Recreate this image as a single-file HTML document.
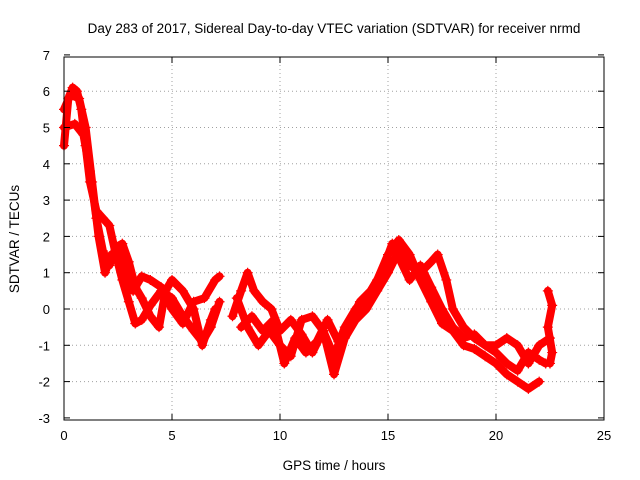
<!DOCTYPE html>
<html><head><meta charset="utf-8"><style>
body{margin:0;background:#fff}
svg{display:block;font-family:"Liberation Sans",sans-serif}
</style></head><body>
<svg width="640" height="480">
<rect width="640" height="480" fill="#fff"/>
<text x="334" y="33" text-anchor="middle" font-size="13.5">Day 283 of 2017, Sidereal Day-to-day VTEC variation (SDTVAR) for receiver nrmd</text>
<g id="grid"></g><g id="series"></g>
<rect x="64" y="57" width="540" height="363" fill="none" stroke="#000"/>
<g id="axes"></g>
<text x="334" y="470" text-anchor="middle" font-size="13.5">GPS time / hours</text>
<text transform="translate(19,239) rotate(-90)" text-anchor="middle" font-size="13.5">SDTVAR / TECUs</text>
</svg>
<script>
const xTicks=[0,5,10,15,20,25];
const yTicks=[-3,-2,-1,0,1,2,3,4,5,6,7];
const trackAx=[0,0.2,0.4,0.6,0.8,1.0,1.2,1.5,1.8,2.1,2.4,2.7,3.0,3.3,3.6,4.0,4.5,5.0,5.5,6.0,6.4,6.8,7.2];
const trackAy=[4.5,5.8,6.1,6.0,5.5,4.5,3.5,2.7,2.5,2.3,1.5,0.8,0.2,-0.4,-0.3,0.1,0.5,0.3,-0.2,-0.6,-0.9,-0.5,0.2];
const trackBx=[0,0.3,0.7,1.0,1.3,1.6,1.9,2.2,2.5,2.8,3.2,3.6,4.0,4.5,5.0,5.5,6.0,6.5,7.0,7.2];
const trackBy=[5.5,5.9,5.8,5.0,3.5,2.0,1.0,1.5,1.6,1.0,0.5,0.9,0.8,0.6,0.0,-0.4,0.2,0.3,0.8,0.9];
const trackCx=[0,0.5,0.9,1.2,1.5,1.8,2.1,2.4,2.7,3.0,3.3,3.6,4.0,4.4,4.7,5.0,5.5,6.0,6.4,6.8,7.0];
const trackCy=[5.0,5.1,4.8,3.8,2.5,1.6,1.2,1.7,1.8,1.3,0.6,0.3,-0.2,-0.5,0.5,0.8,0.5,0.0,-1.0,-0.3,0.0];
const trackEx=[7.8,8.2,8.5,8.8,9.2,9.6,10.0,10.5,11.0,11.5,12.0,12.5,13.0,13.5,14.0,14.5,15.0,15.5,16.0,16.5,17.0,17.5,18.0,18.5,19.0,19.5,20.0,20.5,21.0,21.5,22.0];
const trackEy=[-0.2,0.5,1.0,0.5,0.2,0.0,-0.6,-0.3,-0.7,-1.2,-0.6,-1.3,-0.5,0.0,0.3,0.8,1.5,1.9,1.5,0.8,0.2,-0.4,-0.6,-1.0,-1.1,-1.3,-1.5,-1.8,-2.0,-2.2,-2.0];
const trackFx=[8.0,8.5,9.0,9.5,10.0,10.5,11.0,11.5,12.0,12.5,13.0,13.5,14.0,14.5,15.0,15.5,16.0,16.5,17.0,17.3,17.7,18.0,18.5,19.0,19.5,20.0,20.5,21.0,21.5,22.0,22.3];
const trackFy=[0.3,-0.5,-1.0,-0.6,-1.0,-1.3,-0.3,-0.2,-0.6,-1.8,-0.8,-0.3,0.0,0.5,1.0,1.6,1.2,1.0,1.3,1.5,0.8,0.0,-0.5,-0.8,-1.0,-1.2,-1.5,-1.7,-1.2,-1.4,-1.5];
const trackGx=[8.2,8.7,9.2,9.7,10.2,10.7,11.2,11.7,12.2,12.7,13.2,13.7,14.2,14.7,15.2,15.6,16.0,16.5,17.0,17.5,18.0,18.5,19.0,19.5,20.0,20.5,21.0,21.5,22.0,22.5];
const trackGy=[-0.5,-0.2,-0.6,-0.3,-1.5,-0.8,-1.2,-0.9,-0.3,-0.9,-0.4,0.2,0.5,1.0,1.8,1.3,0.8,1.2,0.6,0.0,-0.5,-0.8,-0.7,-1.0,-1.0,-0.8,-1.0,-1.5,-1.0,-0.8];
const trackHx=[22.4,22.6,22.4,22.6,22.5];
const trackHy=[0.5,0.1,-0.5,-1.2,-1.5];
const tracks=[[trackAx,trackAy],[trackBx,trackBy],[trackCx,trackCy],[trackEx,trackEy],[trackFx,trackFy],[trackGx,trackGy],[trackHx,trackHy]];
const X=v=>64+v*540/25, Y=v=>309-v*36.3;
const NS="http://www.w3.org/2000/svg";
function mk(t,a,p){const e=document.createElementNS(NS,t);for(const k in a)e.setAttribute(k,a[k]);p.appendChild(e);return e;}
const grid=document.getElementById('grid'),axes=document.getElementById('axes'),ser=document.getElementById('series');
xTicks.forEach(v=>{
 if(v>0&&v<25){const g=mk('line',{x1:X(v),x2:X(v),y1:57,y2:420,stroke:'#a0a0a0','stroke-dasharray':'1,3'},grid);
 
 }
 mk('line',{x1:X(v),x2:X(v),y1:420,y2:414,stroke:'#000'},axes);mk('line',{x1:X(v),x2:X(v),y1:57,y2:63,stroke:'#000'},axes);
 const t=mk('text',{x:X(v),y:440,'text-anchor':'middle','font-size':13},axes);t.textContent=v;
 
 
});
yTicks.forEach(v=>{
 if(v>-3&&v<7){const g=mk('line',{x1:64,x2:604,y1:Y(v),y2:Y(v),stroke:'#a0a0a0','stroke-dasharray':'1,3'},grid);
 
 }
 mk('line',{x1:64,x2:70,y1:Y(v),y2:Y(v),stroke:'#000'},axes);mk('line',{x1:604,x2:598,y1:Y(v),y2:Y(v),stroke:'#000'},axes);
 const t=mk('text',{x:50,y:Y(v)+5,'text-anchor':'end','font-size':13},axes);t.textContent=v;
 
 
});
tracks.forEach(([xs,ys])=>{
 const pts=xs.map((x,i)=>X(x)+','+Y(ys[i])).join(' ');
 const p=mk('polyline',{points:pts,fill:'none',stroke:'#f00','stroke-width':8,'stroke-linejoin':'round','stroke-linecap':'round'},ser);
 
 
 xs.forEach((x,i)=>{const cx=X(x),cy=Y(ys[i]);
  const m=mk('path',{d:`M${cx-5},${cy}h10M${cx},${cy-5}v10`,stroke:'#f00','stroke-width':1.2},ser);
  
  });
});
</script>
</body></html>
